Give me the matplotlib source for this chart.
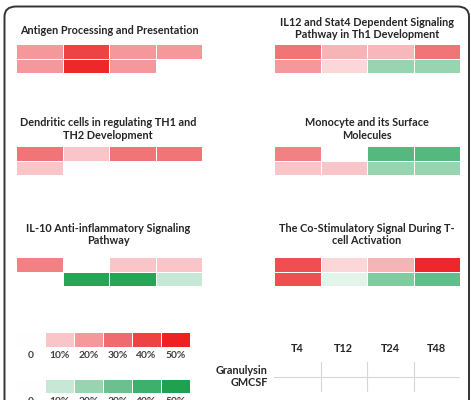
import numpy as np
import matplotlib
matplotlib.use("Agg")
import matplotlib.pyplot as plt
from matplotlib.colors import LinearSegmentedColormap, Normalize
from matplotlib.patches import FancyBboxPatch

plt.rcParams['font.family'] = ['Lato', 'DejaVu Sans']

W, H = 471, 400

# ---------------- data (percent change; + red, - green, nan = empty) -------------
timepoints = ["T4", "T12", "T24", "T48"]
nan = np.nan

titles = [
    "Antigen Processing and Presentation",
    "IL12 and Stat4 Dependent Signaling\nPathway in Th1 Development",
    "Dendritic cells in regulating TH1 and\nTH2 Development",
    "Monocyte and its Surface\nMolecules",
    "IL-10 Anti-inflammatory Signaling\nPathway",
    "The Co-Stimulatory Signal During T-\ncell Activation",
]
antigen = [[20, 40, 20, 20], [20, 48, 20, nan]]
il12 = [[28, 14, 13, 28], [20, 7, -20, -20]]
dendritic = [[28, 10, 28, 28], [10, 0, 0, 0]]
monocyte = [[25, nan, -35, -35], [10, 10, -20, -20]]
il10 = [[25, nan, 10, 10], [nan, -48, -48, -10]]
costim = [[37, 7, 14, 48], [37, -5, -25, -32]]
panels = [antigen, il12, dendritic, monocyte, il10, costim]

legend_levels = [0, 10, 20, 30, 40, 50]
legend_labels = ["0", "10%", "20%", "30%", "40%", "50%"]
table_rows = ["Granulysin", "GMCSF"]

# ---------------- colour scale ----------------
reds = ["#FFFFFF", "#F9C5C9", "#F4999C", "#F06B6E", "#EE4444", "#ED2024"]
greens = ["#FFFFFF", "#C6E8D4", "#98D4B0", "#6CC08F", "#3FB06E", "#1FA24F"]
stops = [((50 - 10 * k) / 100.0, greens[k]) for k in range(5, 0, -1)]
stops += [(0.5, "#FFFFFF")]
stops += [((50 + 10 * k) / 100.0, reds[k]) for k in range(1, 6)]
cmap = LinearSegmentedColormap.from_list("rg", stops)
norm = Normalize(-50, 50)

fig = plt.figure(figsize=(W / 100, H / 100), dpi=100)


def add_ax(x0, y0, x1, y1):
    return fig.add_axes([x0 / W, 1 - y1 / H, (x1 - x0) / W, (y1 - y0) / H])


# frame
frame = FancyBboxPatch((4.5 / W, -0.2), (464.5) / W, (1 - 6.5 / H) + 0.2,
                       boxstyle="round,pad=0,rounding_size=0.025",
                       transform=fig.transFigure, fill=False,
                       edgecolor="#333333", linewidth=1.4)
fig.patches.append(frame)

FS = 7.8
TXT = "#262626"

# panels
xs = [(16, 202), (274, 460)]
ys = [(44, 73), (146, 175), (257, 286)]
title_y = [(22, 35), (123, 135), (228, 241)]
for i, data in enumerate(panels):
    col, row = i % 2, i // 2
    x0, x1 = xs[col]
    y0, y1 = ys[row]
    ax = add_ax(x0, y0, x1, y1)
    arr = np.ma.masked_invalid(np.array(data, dtype=float))
    ax.pcolormesh(arr, cmap=cmap, norm=norm, edgecolors="white", linewidth=0.7)
    ax.set_xlim(0, 4)
    ax.set_ylim(2, 0)
    ax.axis("off")
    # title
    if i == 0:
        fig.text(20 / W, 1 - 30 / H, titles[i], ha="left", va="center",
                 fontsize=FS, fontweight="bold", color=TXT)
    else:
        cx = 108 if col == 0 else 367
        ty = (title_y[row][0] + title_y[row][1]) / 2
        fig.text(cx / W, 1 - ty / H, titles[i], ha="center", va="center",
                 fontsize=FS, fontweight="bold", color=TXT,
                 linespacing=1.2)

# legend bars
for sign, (ly0, ly1, lab_y) in zip([1, -1], [(332, 347, 355), (379, 393, 402)]):
    ax = add_ax(16, ly0, 190, ly1)
    vals = np.array([[sign * v for v in legend_levels]], dtype=float)
    ax.pcolormesh(vals, cmap=cmap, norm=norm, edgecolors="white", linewidth=0.7)
    ax.set_xlim(0, 6)
    ax.set_ylim(1, 0)
    ax.axis("off")
    for k, lab in enumerate(legend_labels):
        fig.text((16 + 29 * (k + 0.5)) / W, 1 - lab_y / H, lab, ha="center",
                 va="center", fontsize=7.4, fontweight="bold", color="#404040")

# empty table
tax = add_ax(274, 362, 460, 392)
tax.set_xlim(0, 4)
tax.set_ylim(2, 0)
for xv in [1, 2, 3]:
    tax.axvline(xv, color="#D6D6D6", lw=0.8)
tax.axhline(1, color="#D6D6D6", lw=0.8)
tax.axis("off")
for k, t in enumerate(timepoints):
    fig.text((274 + 46.5 * (k + 0.5)) / W, 1 - 349 / H, t, ha="center",
             va="center", fontsize=FS, fontweight="bold", color=TXT)
for r, (lab, yy) in enumerate(zip(table_rows, [371, 383])):
    fig.text(268 / W, 1 - yy / H, lab, ha="right", va="center",
             fontsize=FS, fontweight="bold", color=TXT)

fig.savefig("out.png", dpi=100, facecolor="white")
